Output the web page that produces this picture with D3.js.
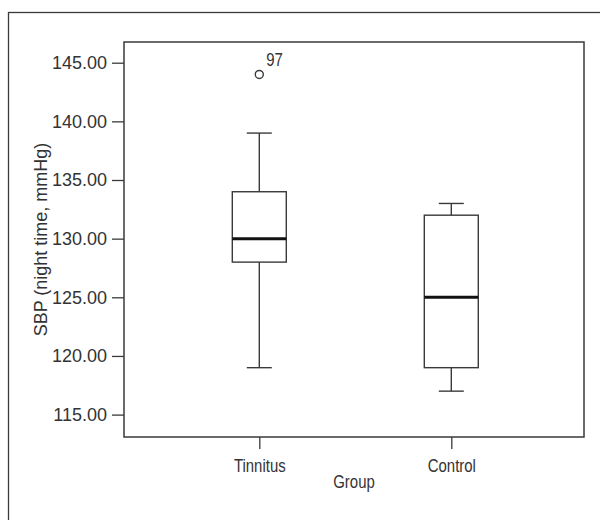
<!DOCTYPE html>
<html><head><meta charset="utf-8">
<script src="https://cdn.jsdelivr.net/npm/d3@7/dist/d3.min.js"></script>
<style>body{margin:0;background:#fff}svg{display:block}text{font-family:"Liberation Sans Narrow","Arial Narrow","Liberation Sans",sans-serif;fill:#333}</style>
</head><body>
<svg id="c" width="600" height="520"></svg>
<script>
const groups = ["Tinnitus", "Control"];
const whiskerLow = [119, 117];
const q1 = [128, 119];
const median = [130, 125];
const q3 = [134, 132];
const whiskerHigh = [139, 133];
const outliers = [{group: "Tinnitus", value: 144, label: "97"}];
const yTicks = [115, 120, 125, 130, 135, 140, 145];

const svg = d3.select("#c");
const L = 124, R = 584, T = 42, B = 437;
const stroke = "#3a3a3a";
const squeeze = "scale(0.83,1)";

svg.append("rect").attr("x", 8.5).attr("y", 12.5).attr("width", 640).attr("height", 560)
  .attr("fill", "none").attr("stroke", stroke).attr("stroke-width", 1.3);

const y = d3.scaleLinear().domain([145, 115]).range([62.7, 414.6]);
const x = d3.scalePoint().domain(groups).range([259.3, 451.3]);

svg.append("rect").attr("x", L).attr("y", T).attr("width", R - L).attr("height", B - T)
  .attr("fill", "none").attr("stroke", stroke).attr("stroke-width", 1.5);

const yAxis = svg.append("g").attr("transform", `translate(${L},0)`)
  .call(d3.axisLeft(y).tickValues(yTicks).tickFormat(d3.format(".2f")).tickSize(12).tickPadding(5));
yAxis.select(".domain").remove();
yAxis.selectAll("line").attr("stroke", stroke).attr("stroke-width", 1.3);
yAxis.selectAll("text").attr("font-size", 18).attr("fill", "#333").style("font-family", null);

const xAxis = svg.append("g").attr("transform", `translate(0,${B})`)
  .call(d3.axisBottom(x).tickSize(12).tickPadding(10));
xAxis.select(".domain").remove();
xAxis.selectAll("line").attr("stroke", stroke).attr("stroke-width", 1.3);
xAxis.selectAll("text").attr("font-size", 18).attr("fill", "#333").style("font-family", null)
  .attr("transform", squeeze);

const bw = 54, cw = 25;
groups.forEach((g, i) => {
  const cx = x(g);
  const gg = svg.append("g").attr("stroke", stroke).attr("stroke-width", 1.4).attr("fill", "none");
  gg.append("line").attr("x1", cx).attr("x2", cx).attr("y1", y(whiskerHigh[i])).attr("y2", y(q3[i]));
  gg.append("line").attr("x1", cx).attr("x2", cx).attr("y1", y(q1[i])).attr("y2", y(whiskerLow[i]));
  gg.append("line").attr("x1", cx - cw / 2).attr("x2", cx + cw / 2).attr("y1", y(whiskerHigh[i])).attr("y2", y(whiskerHigh[i]));
  gg.append("line").attr("x1", cx - cw / 2).attr("x2", cx + cw / 2).attr("y1", y(whiskerLow[i])).attr("y2", y(whiskerLow[i]));
  gg.append("rect").attr("x", cx - bw / 2).attr("y", y(q3[i])).attr("width", bw).attr("height", y(q1[i]) - y(q3[i]));
  gg.append("line").attr("x1", cx - bw / 2).attr("x2", cx + bw / 2).attr("y1", y(median[i])).attr("y2", y(median[i]))
    .attr("stroke", "#111").attr("stroke-width", 3);
});

outliers.forEach(o => {
  svg.append("circle").attr("cx", x(o.group)).attr("cy", y(o.value)).attr("r", 4)
    .attr("fill", "none").attr("stroke", stroke).attr("stroke-width", 1.4);
  svg.append("text").attr("transform", `translate(${x(o.group) + 7},${y(o.value) - 8}) ${squeeze}`)
    .attr("font-size", 18).text(o.label);
});

svg.append("text").attr("transform", `translate(${(L + R) / 2},488) ${squeeze}`).attr("text-anchor", "middle")
  .attr("font-size", 18).text("Group");
svg.append("text").attr("transform", `translate(47,${(T + B) / 2}) rotate(-90)`)
  .attr("text-anchor", "middle").attr("font-size", 18).text("SBP (night time, mmHg)");
</script>
</body></html>
